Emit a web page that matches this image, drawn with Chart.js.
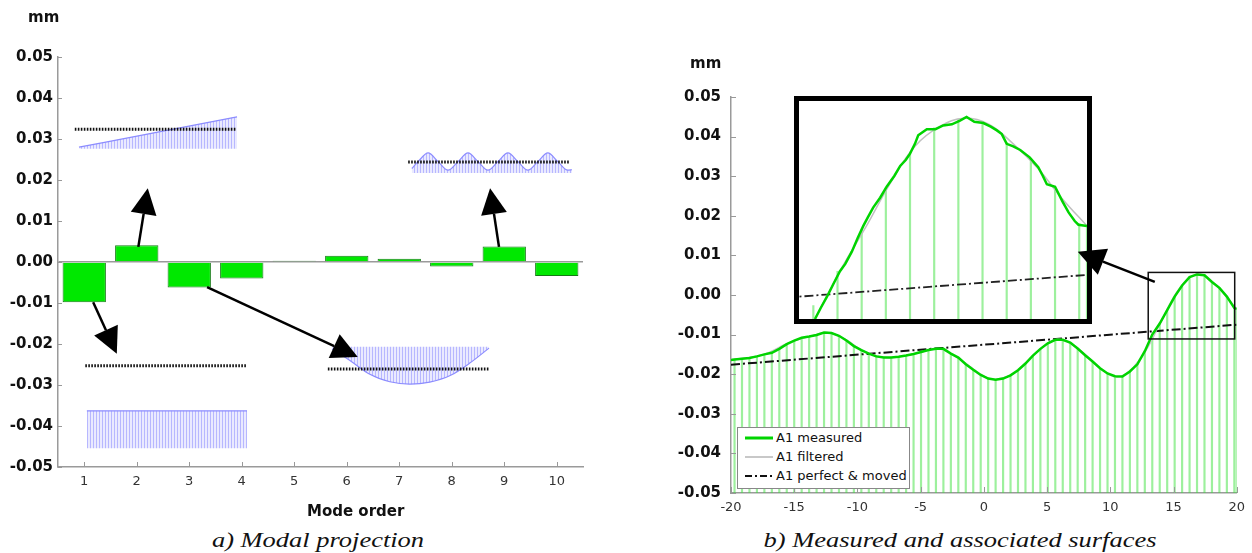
<!DOCTYPE html>
<html>
<head>
<meta charset="utf-8">
<script src="https://cdn.jsdelivr.net/npm/chart.js@4/dist/chart.umd.min.js"></script>
<style>
  body { margin: 0; width: 1252px; height: 553px; position: relative; background: #fff; overflow: hidden; font-family: 'DejaVu Sans', sans-serif; }
  canvas { position: absolute; }
  .txt { position: absolute; color: #111; white-space: nowrap; }
  .unit { font-weight: bold; font-size: 15px; }
  .caption { font-family: 'Liberation Serif', serif; font-style: italic; font-size: 21px; width: 500px; text-align: center; transform: scaleX(1.26); }
  #legend { position: absolute; left: 737px; top: 427px; width: 171px; height: 60px; border: 1px solid #888; background: #fff; font-size: 13px; color: #111; }
  #legend .row { position: absolute; left: 5px; height: 18px; line-height: 18px; display: flex; align-items: center; white-space: nowrap; }
  #legend svg { margin-right: 3px; }
</style>
</head>
<body>
<canvas id="modal" width="620" height="525" style="left:0;top:0"></canvas>
<canvas id="surface" width="632" height="525" style="left:620px;top:0"></canvas>
<canvas id="zoomBox" width="370" height="232" style="left:793px;top:95px"></canvas>

<div class="txt unit" style="left:28px;top:8px">mm</div>
<div class="txt unit" style="left:690px;top:54px">mm</div>
<div class="txt unit" style="left:307px;top:502px">Mode order</div>
<div class="txt caption" style="left:68px;top:528px">a) Modal projection</div>
<div class="txt caption" style="left:710px;top:528px">b) Measured and associated surfaces</div>

<div id="legend">
  <div class="row" style="top:1px"><svg width="30" height="18"><line x1="2" y1="9" x2="30" y2="9" stroke="#00d400" stroke-width="3"/></svg>A1 measured</div>
  <div class="row" style="top:20px"><svg width="30" height="18"><line x1="2" y1="9" x2="30" y2="9" stroke="#c8c8c8" stroke-width="2"/></svg>A1 filtered</div>
  <div class="row" style="top:39px"><svg width="30" height="18"><line x1="2" y1="9" x2="30" y2="9" stroke="#111" stroke-width="2" stroke-dasharray="7,3,2,3"/></svg>A1 perfect &amp; moved</div>
</div>

<script>
Chart.defaults.font.family = "'DejaVu Sans', sans-serif";
Chart.defaults.color = '#111';
Chart.defaults.animation = false;

// ---------- a) modal projection ----------
const modeOrder = ['1', '2', '3', '4', '5', '6', '7', '8', '9', '10'];
const modeAmplitude = [-0.0098, 0.0041, -0.0062, -0.0040, 0.0003, 0.0015, 0.0008, -0.0011, 0.0038, -0.0034];

// small mode sketches, x in mode-order units, y in mm
const rampX = [0.90, 3.91];
const rampY = [0.0280, 0.0354];
const rampBase = 0.0276;
const rampRefX = [0.82, 3.89];
const rampRefY = [0.0324, 0.0324];

const sineX = [7.24, 7.36, 7.55, 7.74, 7.93, 8.12, 8.31, 8.50, 8.69, 8.88, 9.07, 9.26, 9.45, 9.64, 9.83, 10.02, 10.21, 10.29];
const sineY = [0.0228, 0.0245, 0.0266, 0.0245, 0.0224, 0.0245, 0.0266, 0.0245, 0.0224, 0.0245, 0.0266, 0.0245, 0.0224, 0.0245, 0.0266, 0.0245, 0.0224, 0.0225];
const sineBase = 0.0217;
const sineRefX = [7.17, 10.25];
const sineRefY = [0.0244, 0.0244];

const flatX = [1.05, 4.10];
const flatY = [-0.0363, -0.0363];
const flatBase = -0.0454;
const flatRefX = [1.02, 4.10];
const flatRefY = [-0.0253, -0.0253];

const bowlX = [5.72, 6.06, 6.44, 6.82, 7.20, 7.58, 7.97, 8.35, 8.71];
const bowlY = [-0.0212, -0.0240, -0.0274, -0.0292, -0.0298, -0.0293, -0.0277, -0.0246, -0.0210];
const bowlBase = -0.0207;
const bowlRefX = [5.64, 8.71];
const bowlRefY = [-0.0261, -0.0261];

const arrowFromX = [2.03, 8.90, 1.17, 3.34];
const arrowFromY = [0.0037, 0.0037, -0.0098, -0.0061];
const arrowToX = [2.21, 8.73, 1.62, 6.21];
const arrowToY = [0.0180, 0.0180, -0.0224, -0.0232];

// ---------- b) measured and associated surfaces ----------
const measuredX = [-20, -19.72, -19.13, -18.54, -17.95, -17.36, -16.77, -16.18, -15.59, -15.00, -14.41, -13.82, -13.23, -12.64, -12.05, -11.46, -10.87, -10.28, -9.69, -9.10, -8.51, -7.92, -7.33, -6.74, -6.15, -5.56, -4.97, -4.38, -3.79, -3.20, -2.61, -2.02, -1.43, -0.84, -0.25, 0.34, 0.93, 1.52, 2.11, 2.70, 3.29, 3.88, 4.47, 5.06, 5.65, 6.24, 6.83, 7.42, 8.01, 8.60, 9.19, 9.78, 10.37, 10.96, 11.55, 12.14, 12.73, 13.32, 13.91, 14.50, 15.09, 15.68, 16.27, 16.86, 17.45, 18.04, 18.63, 19.22, 19.81, 20];
const measuredY = [-0.0164, -0.0163, -0.0161, -0.0159, -0.0155, -0.0150, -0.0146, -0.0136, -0.0124, -0.0115, -0.0108, -0.0105, -0.0101, -0.0095, -0.0096, -0.0103, -0.0115, -0.0129, -0.0139, -0.0148, -0.0155, -0.0158, -0.0158, -0.0156, -0.0153, -0.0149, -0.0144, -0.0139, -0.0136, -0.0136, -0.0148, -0.0158, -0.0175, -0.0189, -0.0202, -0.0211, -0.0214, -0.0211, -0.0203, -0.0190, -0.0173, -0.0153, -0.0136, -0.0122, -0.0113, -0.0113, -0.0120, -0.0135, -0.0152, -0.0168, -0.0185, -0.0198, -0.0205, -0.0206, -0.0193, -0.0175, -0.0142, -0.0100, -0.0072, -0.0038, -0.0004, 0.0024, 0.0045, 0.0052, 0.0050, 0.0033, 0.0018, -0.0004, -0.0033, -0.0035];

const filteredX = [-20, -17.5, -15.5, -13.5, -12.4, -11, -9.5, -7.7, -5.5, -3.6, -2, 0, 1, 2.5, 4, 5.8, 7.5, 9.5, 10.8, 12.5, 14, 15.5, 17, 18.5, 20];
const filteredY = [-0.0163, -0.0151, -0.0122, -0.0102, -0.0095, -0.0111, -0.0142, -0.0158, -0.0149, -0.0136, -0.0160, -0.0205, -0.0213, -0.0195, -0.0150, -0.0112, -0.0137, -0.0192, -0.0206, -0.0155, -0.0068, 0.0018, 0.0053, 0.0020, -0.0035];

const perfectX = [-20, 20];
const perfectY = [-0.0176, -0.0075];

const stemFloor = -0.05;

// detail shown in the magnified frame
const zoomMeasX = [13.36, 13.50, 13.65, 13.80, 13.97, 14.10, 14.26, 14.40, 14.54, 14.65, 14.78, 14.95, 15.11, 15.30, 15.44, 15.58, 15.68, 15.80, 15.88, 16.09, 16.30, 16.49, 16.70, 16.90, 17.06, 17.25, 17.47, 17.65, 17.80, 17.92, 18.04, 18.20, 18.37, 18.60, 18.81, 18.92, 19.02, 19.22, 19.40, 19.55, 19.70, 19.79, 20.00];
const zoomMeasY = [-0.0111, -0.0102, -0.0093, -0.0083, -0.0072, -0.0066, -0.0056, -0.0045, -0.0035, -0.0028, -0.0020, -0.0012, -0.0003, 0.0006, 0.0014, 0.0019, 0.0024, 0.0032, 0.0039, 0.0044, 0.0044, 0.0047, 0.0048, 0.0051, 0.0054, 0.0050, 0.0049, 0.0046, 0.0043, 0.0040, 0.0032, 0.0030, 0.0027, 0.0021, 0.0013, 0.0006, -0.0001, -0.0003, -0.0015, -0.0024, -0.0031, -0.0034, -0.0035];
const zoomFiltX = [13.36, 14.0, 14.6, 15.2, 15.8, 16.4, 17.0, 17.6, 18.2, 18.8, 19.4, 20.0];
const zoomFiltY = [-0.0111, -0.0070, -0.0036, 0.0000, 0.0030, 0.0046, 0.0053, 0.0048, 0.0032, 0.0012, -0.0013, -0.0035];

const zoomBoxX = [13.0, 19.84];
const zoomBoxY = [-0.0111, 0.0057];
const zoomViewX = [12.97, 20];
const zoomViewY = [-0.0111, 0.0067];

const pointerX = [13.52, 7.43];
const pointerY = [0.0033, 0.0109];

// ---------- helpers ----------
const pts = (xs, ys) => xs.map((x, i) => ({ x: x, y: ys[i] }));
const fmt = v => (Math.abs(v) < 1e-9 ? '0.00' : v.toFixed(2));

function hatch() {
    const c = document.createElement('canvas');
    c.width = 3; c.height = 4;
    const g = c.getContext('2d');
    g.fillStyle = 'rgba(232,232,255,0.9)';
    g.fillRect(0, 0, 3, 4);
    g.fillStyle = 'rgba(170,170,255,0.8)';
    g.fillRect(0, 0, 1, 4);
    return g.createPattern(c, 'repeat');
}

function drawArrow(ctx, x0, y0, x1, y1, len, half) {
    const a = Math.atan2(y1 - y0, x1 - x0);
    const bx = x1 - len * Math.cos(a), by = y1 - len * Math.sin(a);
    ctx.beginPath(); ctx.moveTo(x0, y0); ctx.lineTo(bx, by); ctx.stroke();
    ctx.beginPath(); ctx.moveTo(x1, y1);
    ctx.lineTo(bx + half * Math.sin(a), by - half * Math.cos(a));
    ctx.lineTo(bx - half * Math.sin(a), by + half * Math.cos(a));
    ctx.closePath(); ctx.fill();
}

const innerTicks = {
    id: 'innerTicks',
    afterDraw(chart, args, opts) {
        const { ctx, chartArea: a, scales } = chart;
        ctx.save();
        ctx.strokeStyle = '#999';
        ctx.lineWidth = 1;
        ctx.beginPath();
        scales.x.ticks.forEach((t, i) => {
            const p = Math.round(scales.x.getPixelForTick(i)) + 0.5;
            ctx.moveTo(p, a.bottom); ctx.lineTo(p, a.bottom - opts.len);
        });
        scales.y.ticks.forEach((t, i) => {
            const p = Math.round(scales.y.getPixelForTick(i)) + 0.5;
            ctx.moveTo(a.left, p); ctx.lineTo(a.left + opts.len - 1, p);
        });
        ctx.stroke();
        ctx.restore();
    }
};

const modeArrows = {
    id: 'modeArrows',
    afterDatasetsDraw(chart) {
        const { ctx, scales } = chart;
        ctx.save();
        ctx.strokeStyle = '#000';
        ctx.fillStyle = '#000';
        ctx.lineWidth = 2.5;
        arrowFromX.forEach((x, i) => {
            drawArrow(ctx,
                scales.x2.getPixelForValue(x), scales.y.getPixelForValue(arrowFromY[i]),
                scales.x2.getPixelForValue(arrowToX[i]), scales.y.getPixelForValue(arrowToY[i]),
                26, 13);
        });
        ctx.restore();
    }
};

const sketchLine = (xs, ys, base, pattern) => ({
    type: 'line', xAxisID: 'x2', data: pts(xs, ys),
    borderColor: '#8c8cff', borderWidth: 1.2, pointRadius: 0,
    cubicInterpolationMode: 'monotone',
    fill: { value: base }, backgroundColor: pattern
});
const refLine = (xs, ys) => ({
    type: 'line', xAxisID: 'x2', data: pts(xs, ys),
    borderColor: '#111', borderWidth: 3, borderDash: [1.6, 1.4], pointRadius: 0, fill: false
});

const pat = hatch();

new Chart(document.getElementById('modal').getContext('2d'), {
    type: 'bar',
    data: {
        labels: modeOrder,
        datasets: [
            refLine(rampRefX, rampRefY),
            refLine(sineRefX, sineRefY),
            refLine(flatRefX, flatRefY),
            refLine(bowlRefX, bowlRefY),
            sketchLine(rampX, rampY, rampBase, pat),
            sketchLine(sineX, sineY, sineBase, pat),
            sketchLine(flatX, flatY, flatBase, pat),
            sketchLine(bowlX, bowlY, bowlBase, pat),
            {
                label: 'Mode amplitude',
                data: modeAmplitude,
                backgroundColor: '#00e800',
                borderColor: '#157a15',
                borderWidth: 1,
                grouped: false,
                categoryPercentage: 1,
                barPercentage: 0.825
            }
        ]
    },
    options: {
        responsive: false,
        events: [],
        layout: { padding: { left: 0, top: 57, right: 37, bottom: 0 } },
        plugins: { legend: { display: false }, tooltip: { enabled: false }, innerTicks: { len: 5 } },
        scales: {
            x: {
                grid: { display: false, drawTicks: false },
                border: { color: '#9a9a9a', width: 1.5 },
                ticks: { font: { size: 13 }, color: '#333', padding: 7, maxRotation: 0 },
                afterFit: s => { s.height = 58; }
            },
            x2: { type: 'linear', min: 0.5, max: 10.5, display: false, offset: false },
            y: {
                min: -0.05, max: 0.05,
                grid: {
                    drawTicks: false, lineWidth: 1.5,
                    color: c => (c.tick && Math.abs(c.tick.value) < 1e-9 ? '#9a9a9a' : 'rgba(0,0,0,0)')
                },
                border: { color: '#9a9a9a', width: 1.5 },
                ticks: { stepSize: 0.01, autoSkip: false, padding: 5, font: { size: 15, weight: 'bold' }, color: '#111', callback: fmt },
                afterFit: s => { s.width = 58; }
            }
        }
    },
    plugins: [innerTicks, modeArrows]
});

// ---------- b) chart ----------
const stems = pts(measuredX, measuredY).filter(p => p.x > -20).map(p => ({ x: p.x, y: [stemFloor, p.y] }));

const zoomBoxPlugin = {
    id: 'zoomBoxOutline',
    afterDatasetsDraw(chart) {
        const { ctx, scales } = chart;
        const x0 = scales.x.getPixelForValue(zoomBoxX[0]), x1 = scales.x.getPixelForValue(zoomBoxX[1]);
        const y0 = scales.y.getPixelForValue(zoomBoxY[1]), y1 = scales.y.getPixelForValue(zoomBoxY[0]);
        ctx.save();
        ctx.strokeStyle = '#111';
        ctx.lineWidth = 1.5;
        ctx.strokeRect(x0, y0, x1 - x0, y1 - y0);
        ctx.restore();
    }
};

const surfaceChart = new Chart(document.getElementById('surface').getContext('2d'), {
    type: 'line',
    data: {
        datasets: [
            { label: 'A1 measured', data: pts(measuredX, measuredY), borderColor: '#00d400', borderWidth: 2.5, pointRadius: 0 },
            { label: 'A1 filtered', data: pts(filteredX, filteredY), borderColor: '#c8c8c8', borderWidth: 1.5, pointRadius: 0, tension: 0.4 },
            { label: 'A1 perfect & moved', data: pts(perfectX, perfectY), borderColor: '#111', borderWidth: 2, borderDash: [9, 3, 2, 3], pointRadius: 0 },
            { type: 'bar', label: 'stems', data: stems, backgroundColor: 'rgba(60,225,60,0.5)', barThickness: 1.5, borderWidth: 0 }
        ]
    },
    options: {
        responsive: false,
        events: [],
        layout: { padding: { left: 0, top: 97, right: 15, bottom: 0 } },
        plugins: { legend: { display: false }, tooltip: { enabled: false }, innerTicks: { len: 6 } },
        scales: {
            x: {
                type: 'linear', min: -20, max: 20, offset: false,
                grid: { display: false, drawTicks: false },
                border: { color: '#9a9a9a', width: 1.5 },
                ticks: { stepSize: 5, autoSkip: false, font: { size: 13 }, color: '#333', padding: 7, maxRotation: 0 },
                afterFit: s => { s.height = 32; }
            },
            y: {
                min: -0.05, max: 0.05,
                grid: { display: false, drawTicks: false },
                border: { color: '#9a9a9a', width: 1.5 },
                ticks: { stepSize: 0.01, autoSkip: false, padding: 10, font: { size: 15, weight: 'bold' }, color: '#111', callback: fmt },
                afterFit: s => { s.width = 111; }
            }
        }
    },
    plugins: [innerTicks, zoomBoxPlugin]
});

// ---------- magnified frame ----------
const frameLeft = 793 - 620, frameTop = 95;

const framePlugin = {
    id: 'frame',
    beforeDraw(chart) {
        const a = chart.chartArea, ctx = chart.ctx;
        ctx.save();
        ctx.fillStyle = '#fff';
        ctx.fillRect(a.left, a.top, a.width, a.height);
        ctx.restore();
    },
    afterDraw(chart) {
        const a = chart.chartArea, ctx = chart.ctx;
        ctx.save();
        ctx.strokeStyle = '#000';
        ctx.lineWidth = 5;
        ctx.strokeRect(a.left - 2.5, a.top - 2.5, a.width + 5, a.height + 5);
        const sx = surfaceChart.scales.x, sy = surfaceChart.scales.y;
        ctx.fillStyle = '#000';
        ctx.lineWidth = 2.5;
        drawArrow(ctx,
            sx.getPixelForValue(pointerX[0]) - frameLeft, sy.getPixelForValue(pointerY[0]) - frameTop,
            sx.getPixelForValue(pointerX[1]) - frameLeft, sy.getPixelForValue(pointerY[1]) - frameTop,
            27, 14);
        ctx.restore();
    }
};

new Chart(document.getElementById('zoomBox').getContext('2d'), {
    type: 'line',
    data: {
        datasets: [
            { label: 'A1 measured', data: pts(zoomMeasX, zoomMeasY), borderColor: '#00d400', borderWidth: 2.5, pointRadius: 0 },
            { label: 'A1 filtered', data: pts(zoomFiltX, zoomFiltY), borderColor: '#c0c0c0', borderWidth: 1.5, pointRadius: 0, tension: 0.4 },
            { label: 'A1 perfect & moved', data: pts(perfectX, perfectY), borderColor: '#222', borderWidth: 1.8, borderDash: [9, 3, 2, 3], pointRadius: 0 },
            { type: 'bar', label: 'stems', data: stems, backgroundColor: 'rgba(60,225,60,0.5)', barThickness: 1.5, borderWidth: 0 }
        ]
    },
    options: {
        responsive: false,
        events: [],
        layout: { padding: { left: 6, top: 6, right: 76, bottom: 8 } },
        plugins: { legend: { display: false }, tooltip: { enabled: false } },
        scales: {
            x: { type: 'linear', min: zoomViewX[0], max: zoomViewX[1], display: false, offset: false },
            y: { min: zoomViewY[0], max: zoomViewY[1], display: false }
        }
    },
    plugins: [framePlugin]
});
</script>
</body>
</html>
